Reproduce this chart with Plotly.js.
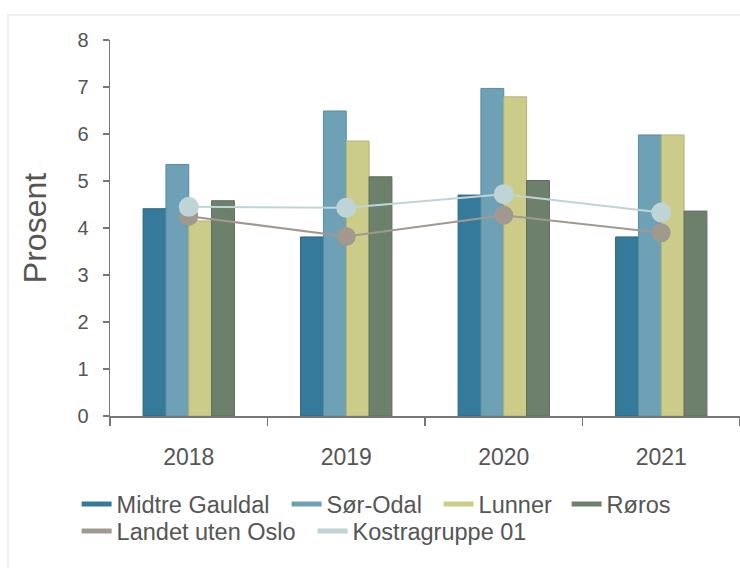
<!DOCTYPE html>
<html>
<head>
<meta charset="utf-8">
<script src="https://cdn.plot.ly/plotly-3.0.1.min.js"></script>
<style>
  html, body { margin: 0; padding: 0; background: #fff; }
  #frame { position: absolute; left: 7px; top: 14px; width: 760px; height: 600px; border: 2px solid #efefef; box-sizing: border-box; }
  #chart { position: absolute; left: 0; top: 0; width: 740px; height: 568px; }
</style>
</head>
<body>
<div id="frame"></div>
<div id="chart"></div>
<script>
const years = ["2018", "2019", "2020", "2021"];
const midtreGauldal = [4.41, 3.81, 4.70, 3.81];
const sorOdal = [5.35, 6.49, 6.97, 5.98];
const lunner = [4.15, 5.85, 6.79, 5.98];
const roros = [4.58, 5.09, 5.01, 4.36];
const landetUtenOslo = [4.25, 3.82, 4.27, 3.90];
const kostragruppe01 = [4.45, 4.43, 4.72, 4.33];
const yTicks = [0, 1, 2, 3, 4, 5, 6, 7, 8];

const barSeries = [
  {name: "Midtre Gauldal", y: midtreGauldal, color: "#357a9a", line: "#2c6782"},
  {name: "Sør-Odal", y: sorOdal, color: "#6ea1b5", line: "#5b8c9f"},
  {name: "Lunner", y: lunner, color: "#cbcc89", line: "#b3b474"},
  {name: "Røros", y: roros, color: "#6d806c", line: "#5c6e5b"}
];
const lineSeries = [
  {name: "Landet uten Oslo", y: landetUtenOslo, color: "#a19990", size: 19},
  {name: "Kostragruppe 01", y: kostragruppe01, color: "#bfd4d6", size: 20}
];

const traces = [];
barSeries.forEach(s => {
  traces.push({
    type: "bar", x: years, y: s.y, name: s.name, showlegend: false,
    marker: {color: s.color, line: {color: s.line, width: 1}},
    hoverinfo: "skip"
  });
});
lineSeries.forEach(s => {
  traces.push({
    type: "scatter", mode: "lines+markers", x: years, y: s.y, name: s.name,
    showlegend: false,
    line: {color: s.color, width: 2},
    marker: {color: s.color, size: s.size}
  });
});

// legend placement (layout only): one small legend per entry
const legendPos = [
  {x: -0.053, y: -0.176}, {x: 0.2803, y: -0.176}, {x: 0.5216, y: -0.176}, {x: 0.7248, y: -0.176},
  {x: -0.053, y: -0.248}, {x: 0.3216, y: -0.248}
];
const legendBase = {
  orientation: "h", xanchor: "left", yanchor: "top",
  font: {size: 23.5, color: "#555555"}, traceorder: "normal",
  itemwidth: 30, bgcolor: "rgba(0,0,0,0)"
};

const layout = {
  width: 740, height: 568,
  margin: {l: 110, r: 0, t: 40, b: 152},
  paper_bgcolor: "rgba(0,0,0,0)", plot_bgcolor: "rgba(0,0,0,0)",
  font: {family: "Liberation Sans, Arial, sans-serif", color: "#555555"},
  barmode: "group", bargap: 0.42, bargroupgap: 0,
  showlegend: true,
  xaxis: {
    type: "category", range: [-0.5, 3.5], tickson: "boundaries",
    showline: true, linecolor: "#777777", linewidth: 1.5,
    ticks: "outside", ticklen: 8, tickcolor: "#777777", tickwidth: 1.5,
    showgrid: false, zeroline: false, ticklabelstandoff: 20,
    tickfont: {size: 23, color: "#555555"}
  },
  yaxis: {
    range: [0, 8], tickvals: yTicks, ticktext: yTicks.map(String),
    showline: true, linecolor: "#777777", linewidth: 1.5,
    ticks: "outside", ticklen: 6, tickcolor: "#777777", tickwidth: 1.5,
    showgrid: false, zeroline: false, ticklabelstandoff: 10,
    tickfont: {size: 20, color: "#555555"},
    title: {text: "Prosent", font: {size: 32, color: "#555555"}, standoff: 21}
  }
};

// legend-only entries (line swatches as in the original)
barSeries.concat(lineSeries).forEach((s, i) => {
  const key = i === 0 ? "legend" : "legend" + (i + 1);
  layout[key] = Object.assign({}, legendBase, legendPos[i]);
  traces.push({
    type: "scatter", mode: "lines", x: [years[0]], y: [null], name: s.name,
    showlegend: true, legend: key,
    line: {color: s.color, width: 5}
  });
});

Plotly.newPlot("chart", traces, layout, {displayModeBar: false, staticPlot: true});
</script>
</body>
</html>
